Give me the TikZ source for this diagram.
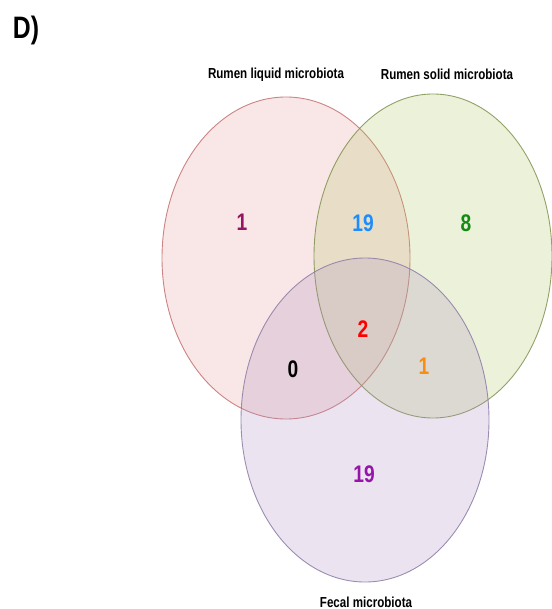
\documentclass[tikz,border=0pt]{standalone}
\usepackage{fontspec}
\setmainfont{Liberation Sans}[FakeStretch=0.8]
\usetikzlibrary{positioning}

\definecolor{liquidline}{RGB}{196,112,112}
\definecolor{liquidfill}{RGB}{232,150,150}
\definecolor{solidline}{RGB}{128,146,80}
\definecolor{solidfill}{RGB}{176,198,100}
\definecolor{fecalline}{RGB}{140,124,166}
\definecolor{fecalfill}{RGB}{170,140,190}
\definecolor{numpurple}{RGB}{150,20,100}
\definecolor{numblue}{RGB}{30,140,250}
\definecolor{numgreen}{RGB}{20,140,20}
\definecolor{numorange}{RGB}{250,140,20}
\definecolor{numviolet}{RGB}{150,20,170}

\begin{document}
\begin{tikzpicture}[
    x=1pt, y=1pt,
    font=\bfseries,
    setbox/.style={draw, line width=0.9pt, fill opacity=0.24, draw opacity=0.85},
    setname/.style={font=\bfseries\fontsize{14.5}{16}\selectfont},
    count/.style={font=\bfseries\fontsize{24}{26}\selectfont}
  ]
  \useasboundingbox (0,0) rectangle (551,-609);

  % the three sets
  \draw[setbox, draw=liquidline, fill=liquidfill] (286,-258) ellipse [x radius=124, y radius=161];
  \draw[setbox, draw=solidline, fill=solidfill] (433,-256) ellipse [x radius=119, y radius=162];
  \draw[setbox, draw=fecalline, fill=fecalfill] (365,-420) ellipse [x radius=124, y radius=162];

  % titles
  \node[font=\bfseries\fontsize{31}{34}\selectfont] (panel) at (26,-30) {D)};
  \node[setname] (liquid) at (276,-75) {Rumen liquid microbiota};
  \node[setname] (solid) at (447,-74) {Rumen solid microbiota};
  \node[setname] (fecal) at (366,-602) {Fecal microbiota};

  % counts
  \node[count, text=numpurple] (l) at (242,-222) {1};
  \node[count, text=numblue] (ls) at (363,-223) {19};
  \node[count, text=numgreen] (s) at (466,-223) {8};
  \node[count, text=red] (lsf) at (363,-329) {2};
  \node[count, text=black] (lf) at (293,-369) {0};
  \node[count, text=numorange] (sf) at (424,-366) {1};
  \node[count, text=numviolet] (f) at (364,-474) {19};

\end{tikzpicture}
\end{document}
